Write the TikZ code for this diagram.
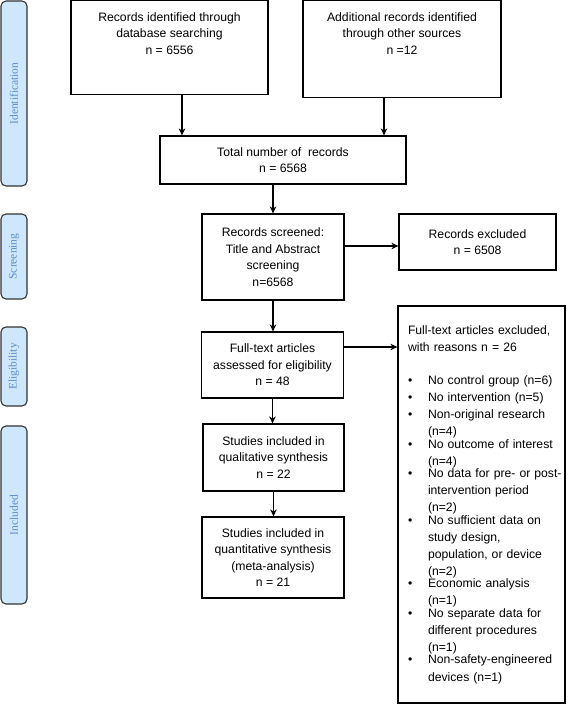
\documentclass[tikz,border=0pt]{standalone}
\usepackage{fontspec}
\setmainfont{Liberation Sans}
\newfontfamily\sidefont{Liberation Serif}
\usetikzlibrary{arrows.meta}
\definecolor{sidefill}{RGB}{206,231,252}
\definecolor{sidetext}{RGB}{90,140,205}
\newcommand\rb[1]{\makebox[20pt][l]{\textbullet}\parbox[t]{137pt}{\fontsize{12.2}{17.1}\selectfont #1}}
\newcommand\topbox[3]{\parbox[c][#1][t]{#2}{\vspace*{11.5pt}\centering #3}}
\begin{document}
\begin{tikzpicture}[x=1pt,y=-1pt,
  box/.style={draw, line width=1.2pt, align=center, inner sep=0pt,
    font=\fontsize{12.2}{16.5}\selectfont},
  side/.style={draw=black!80, line width=1.1pt, fill=sidefill, rounded corners=5pt,
    inner sep=0pt, rotate=90, minimum height=26pt,
    font=\sidefont\fontsize{11.5}{13}\selectfont, text=sidetext},
  arr/.style={line width=1.2pt, -{Stealth[length=7pt,width=6.5pt]}}
]
\useasboundingbox (0,0) rectangle (568,704);

% side labels
\node[side, minimum width=185pt] (sid) at (14,93.5) {Identification};
\node[side, minimum width=85pt] (sscr) at (14,256.5) {Screening};
\node[side, minimum width=79pt] (selig) at (14,366.5) {Eligibility};
\node[side, minimum width=178pt] (sinc) at (14,515) {Included};

% boxes
\node[box, minimum width=197pt, minimum height=94pt] (db) at (169.5,47.8)
  {\topbox{94pt}{190pt}{Records identified through\\database searching\\n = 6556}};
\node[box, minimum width=198pt, minimum height=97pt] (add) at (402,49.3)
  {\topbox{97pt}{190pt}{Additional records identified\\through other sources\\n =12}};
\node[box, minimum width=246pt, minimum height=48pt] (total) at (283,160)
  {Total number of \ records\\n = 6568};
\node[box, minimum width=142pt, minimum height=86pt] (screen) at (273,257)
  {Records screened:\\Title and Abstract\\screening\\n=6568};
\node[box, minimum width=157pt, minimum height=56pt] (excl) at (477.5,242)
  {Records excluded\\n = 6508};
\node[box, minimum width=142pt, minimum height=66pt] (full) at (272.5,365)
  {Full-text articles\\assessed for eligibility\\n = 48};
\node[box, minimum width=141pt, minimum height=67pt] (qual) at (273.5,457.5)
  {Studies included in\\qualitative synthesis\\n = 22};
\node[box, minimum width=142pt, minimum height=81pt] (quant) at (273,557.5)
  {Studies included in\\quantitative synthesis\\(meta-analysis)\\n = 21};
\node[box, minimum width=167pt, minimum height=397pt, text width=147pt,
  align=left, inner xsep=10pt, font=\fontsize{12.2}{17.1}\selectfont] (reasons) at (481.5,504.5)
  {Full-text articles excluded,\\
   with reasons n = 26\\[16pt]
   \rb{No control group (n=6)}\\
   \rb{No intervention (n=5)}\\
   \rb{Non-original research\\(n=4)}\\
   \rb{No outcome of interest\\(n=4)}\\
   \rb{No data for pre- or post-\\intervention period\\(n=2)}\\
   \rb{No sufficient data on\\study design,\\population, or device\\(n=2)}\\
   \rb{Economic analysis\\(n=1)}\\
   \rb{No separate data for\\different procedures\\(n=1)}\\
   \rb{Non-safety-engineered\\devices (n=1)}};

% connector anchor points
\coordinate (exin) at ([yshift=-4pt]excl.west);
\coordinate (dbout) at ([xshift=12.5pt]db.south);
\coordinate (addout) at ([xshift=-18pt]add.south);
\coordinate (fullout) at ([yshift=18pt]full.east);

% connectors
\draw[arr] (dbout) -- (dbout |- total.north);
\draw[arr] (addout) -- (addout |- total.north);
\draw[arr] (screen.north |- total.south) -- (screen.north);
\draw[arr] (screen.east |- exin) -- (exin);
\draw[arr] (screen.south) -- (screen.south |- full.north);
\draw[arr] (fullout) -- (fullout -| reasons.west);
\draw[arr] (full.south) -- (full.south |- qual.north);
\draw[arr] (qual.south) -- (qual.south |- quant.north);
\end{tikzpicture}
\end{document}
